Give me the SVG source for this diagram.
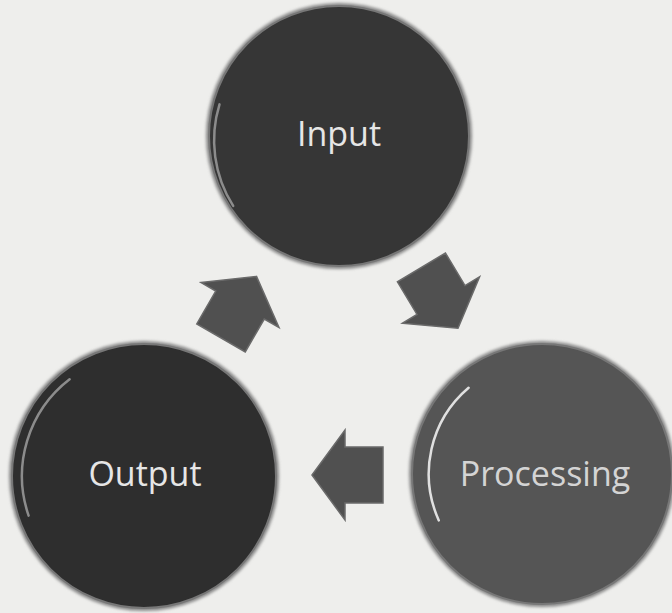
<svg xmlns="http://www.w3.org/2000/svg" width="672" height="613" viewBox="0 0 672 613">
  <defs>
    <filter id="soft" x="-10%" y="-10%" width="120%" height="120%">
      <feGaussianBlur stdDeviation="1.6"/>
    </filter>
    <path id="blockArrow" d="M33,0 L0,-45 L0,-28 L-38,-28 L-38,28 L0,28 L0,45 Z"/>
    <style>
      .disc { stroke: #777; stroke-width: 2; }
      .hl { fill: none; stroke: #8c8c8c; stroke-width: 2.5; stroke-linecap: round; }
      .hl-bright { stroke: #e0e0e0; }
      .lbl { font-family: "Open Sans", "Noto Sans", sans-serif; font-size: 34px; text-anchor: middle; }
      .arrow { fill: #505050; stroke: #6a6a6a; stroke-width: 1.5; }
    </style>
  </defs>
  <rect width="672" height="613" fill="#eeeeec"/>

  <g id="input">
    <circle cx="339" cy="136" r="133" fill="#888" filter="url(#soft)"/>
    <circle class="disc" cx="339" cy="136" r="130" fill="#363636"/>
    <path class="hl" d="M 233.2 205.9 A 122 122 0 0 1 219.5 104.4"/>
    <text class="lbl" x="339" y="146" fill="#e6e6e6">Input</text>
  </g>

  <g id="output">
    <circle cx="144" cy="476" r="135" fill="#888" filter="url(#soft)"/>
    <circle class="disc" cx="144" cy="476" r="132" fill="#2e2e2e"/>
    <path class="hl" d="M 28.6 515.6 A 122 122 0 0 1 69.6 379.2"/>
    <text class="lbl" x="145" y="486" fill="#e6e6e6">Output</text>
  </g>

  <g id="processing">
    <circle cx="542" cy="474" r="133" fill="#8a8a8a" filter="url(#soft)"/>
    <circle class="disc" cx="542" cy="474" r="130" fill="#555555"/>
    <path class="hl hl-bright" d="M 438.8 520.4 A 113 113 0 0 1 468.6 387.7"/>
    <text class="lbl" x="545" y="486" fill="#d4d4d4">Processing</text>
  </g>

  <g id="connectors">
    <use href="#blockArrow" class="arrow" transform="translate(240,305) rotate(-60)"/>
    <use href="#blockArrow" class="arrow" transform="translate(441,300) rotate(59)"/>
    <use href="#blockArrow" class="arrow" transform="translate(345,475) rotate(180)"/>
  </g>
</svg>
